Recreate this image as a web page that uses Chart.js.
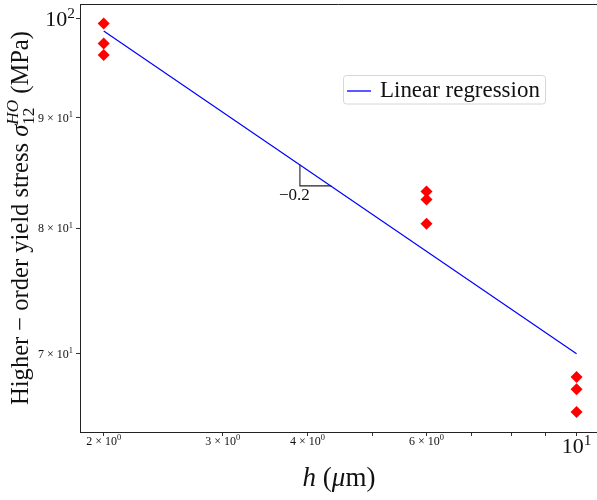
<!DOCTYPE html>
<html>
<head>
<meta charset="utf-8">
<script src="https://cdn.jsdelivr.net/npm/chart.js@4.4.1/dist/chart.umd.min.js"></script>
<style>
  body { margin: 0; background: #fff; }
  #wrap { width: 597px; height: 500px; }
</style>
</head>
<body>
<div id="wrap"><canvas id="StressChart" width="597" height="500"></canvas></div>
<script>
// measured points (h in um, stress in MPa)
const hVals = [2, 2, 2, 6, 6, 6, 10, 10, 10];
const stressVals = [99.5, 97.4, 96.2, 83.2, 82.5, 80.4, 68.3, 67.4, 65.8];

// fitted line end points
const fitH = [2, 10];
const fitStress = [98.7, 70.0];

// slope triangle corners
const slopeH = [3.9, 3.9, 4.34];
const slopeStress = [85.6, 83.7, 83.7];
const slopeLabel = '−0.2';

// ticks
const xTickVals = [2, 3, 4, 5, 6, 7, 8, 9, 10];
const xTickLabels = ['2 × 10^0', '3 × 10^0', '4 × 10^0', '', '6 × 10^0', '', '', '', '10^1'];
const yTickVals = [70, 80, 90, 100];
const yTickLabels = ['7 × 10^1', '8 × 10^1', '9 × 10^1', '10^2'];

const serif = '"Liberation Serif", "DejaVu Serif", serif';
const toPts = (xs, ys) => xs.map((x, i) => ({ x: x, y: ys[i] }));

function fnt(size, italic) {
    return (italic ? 'italic ' : '') + size + 'px ' + serif;
}

// draw text made of pieces (super/subscripts), returns width
function rich(ctx, parts, x, y, align, dry) {
    let w = 0, hold = 0;
    const pos = [];
    parts.forEach(p => {
        ctx.font = p.font;
        const m = ctx.measureText(p.t).width;
        pos.push(w);
        if (p.hold) { hold = m; return; }
        w += Math.max(m, hold);
        hold = 0;
    });
    if (dry) return w;
    let x0 = x;
    if (align === 'center') x0 = x - w / 2;
    if (align === 'right') x0 = x - w;
    ctx.textAlign = 'left';
    ctx.textBaseline = 'alphabetic';
    parts.forEach((p, i) => {
        ctx.font = p.font;
        ctx.fillText(p.t, x0 + pos[i], y + (p.dy || 0));
    });
    return w;
}

function powParts(label, size) {
    const bits = label.split('^');
    return [
        { t: bits[0], font: fnt(size) },
        { t: bits[1], font: fnt(size * 0.7), dy: -size * 0.38 }
    ];
}

const extras = {
    id: 'extras',
    afterDraw(chart) {
        const ctx = chart.ctx;
        const xs = chart.scales.x, ys = chart.scales.y;
        const area = chart.chartArea;
        ctx.save();
        ctx.fillStyle = '#111';

        // top spine
        ctx.strokeStyle = '#222';
        ctx.lineWidth = 1;
        ctx.beginPath();
        ctx.moveTo(area.left, Math.round(area.top) + 0.5);
        ctx.lineTo(area.right, Math.round(area.top) + 0.5);
        ctx.stroke();

        // x tick labels
        xTickVals.forEach((v, i) => {
            const lab = xTickLabels[i];
            if (!lab) return;
            const px = xs.getPixelForValue(v);
            const major = lab.indexOf('×') < 0;
            const size = major ? 22 : 12;
            rich(ctx, powParts(lab, size), px, major ? 453 : 445, 'center');
        });

        // y tick labels
        yTickVals.forEach((v, i) => {
            const lab = yTickLabels[i];
            const py = ys.getPixelForValue(v);
            const major = lab.indexOf('×') < 0;
            const size = major ? 22 : 12;
            rich(ctx, powParts(lab, size), major ? 75 : 73, py + (major ? 7.5 : 4), 'right');
        });

        // slope label
        const cx = xs.getPixelForValue(slopeH[1]);
        const cy = ys.getPixelForValue(slopeStress[1]);
        ctx.font = fnt(17);
        ctx.textAlign = 'center';
        ctx.textBaseline = 'alphabetic';
        ctx.fillText(slopeLabel, cx - 5.5, cy + 14);

        // x title
        const xt = [
            { t: 'h', font: fnt(27, true) },
            { t: ' (', font: fnt(27) },
            { t: 'μ', font: fnt(27, true) },
            { t: 'm)', font: fnt(27) }
        ];
        rich(ctx, xt, 339, 486, 'center');

        // y title, rotated
        let S = 24;
        const ytParts = s => [
            { t: 'Higher − order yield stress ', font: fnt(s) },
            { t: 'σ', font: fnt(s, true) },
            { t: 'HO', font: fnt(s * 0.7, true), dy: -s * 0.42, hold: true },
            { t: '12', font: fnt(s * 0.7), dy: s * 0.25 },
            { t: ' (MPa)', font: fnt(s) }
        ];
        const w0 = rich(ctx, ytParts(S), 0, 0, 'left', true);
        S = Math.max(22, Math.min(27, S * 374 / w0));
        ctx.save();
        ctx.translate(28, 218);
        ctx.rotate(-Math.PI / 2);
        rich(ctx, ytParts(S), 0, 0, 'center');
        ctx.restore();

        // legend box
        const bx = 343.5, by = 75.5, bw = 202, bh = 28.5;
        ctx.fillStyle = 'rgba(255,255,255,0.8)';
        ctx.strokeStyle = '#d6d6d6';
        ctx.beginPath();
        ctx.roundRect(bx, by, bw, bh, 3);
        ctx.fill();
        ctx.stroke();
        ctx.strokeStyle = '#0000ff';
        ctx.lineWidth = 1.3;
        ctx.beginPath();
        ctx.moveTo(347, 91);
        ctx.lineTo(371, 91);
        ctx.stroke();
        ctx.fillStyle = '#111';
        let ls = 21;
        ctx.font = fnt(ls);
        ls = Math.max(19, Math.min(24, ls * 160 / ctx.measureText('Linear regression').width));
        ctx.font = fnt(ls);
        ctx.textAlign = 'left';
        ctx.fillText('Linear regression', 380, 97);

        ctx.restore();
    }
};

new Chart(document.getElementById('StressChart'), {
    type: 'scatter',
    data: {
        datasets: [
            {
                label: 'data',
                data: toPts(hVals, stressVals),
                pointStyle: 'rectRot',
                pointRadius: 6,
                backgroundColor: '#ff0000',
                borderColor: '#ff0000',
                borderWidth: 0
            },
            {
                label: 'Linear regression',
                type: 'line',
                data: toPts(fitH, fitStress),
                borderColor: '#0000ff',
                borderWidth: 1.2,
                pointRadius: 0,
                fill: false
            },
            {
                label: 'slope',
                type: 'line',
                data: toPts(slopeH, slopeStress),
                borderColor: '#222',
                borderWidth: 1.1,
                pointRadius: 0,
                fill: false
            }
        ]
    },
    options: {
        responsive: false,
        animation: false,
        devicePixelRatio: 1,
        layout: { autoPadding: false, padding: { top: 4, right: 0, left: 0, bottom: 0 } },
        plugins: {
            legend: { display: false },
            tooltip: { enabled: false }
        },
        scales: {
            x: {
                type: 'logarithmic',
                min: 1.845,
                max: 10.72,
                afterBuildTicks: (s) => { s.ticks = xTickVals.map(v => ({ value: v })); },
                afterFit: (s) => { s.height = 68; },
                ticks: { display: false },
                grid: { drawOnChartArea: false, drawTicks: true, tickLength: 4, color: '#333' },
                border: { display: true, color: '#222', width: 1 }
            },
            y: {
                type: 'logarithmic',
                min: 64.41,
                max: 101.58,
                afterBuildTicks: (s) => { s.ticks = yTickVals.map(v => ({ value: v })); },
                afterFit: (s) => { s.width = 80; },
                ticks: { display: false },
                grid: { drawOnChartArea: false, drawTicks: true, tickLength: 4, color: '#333' },
                border: { display: true, color: '#222', width: 1 }
            }
        }
    },
    plugins: [extras]
});
</script>
</body>
</html>
